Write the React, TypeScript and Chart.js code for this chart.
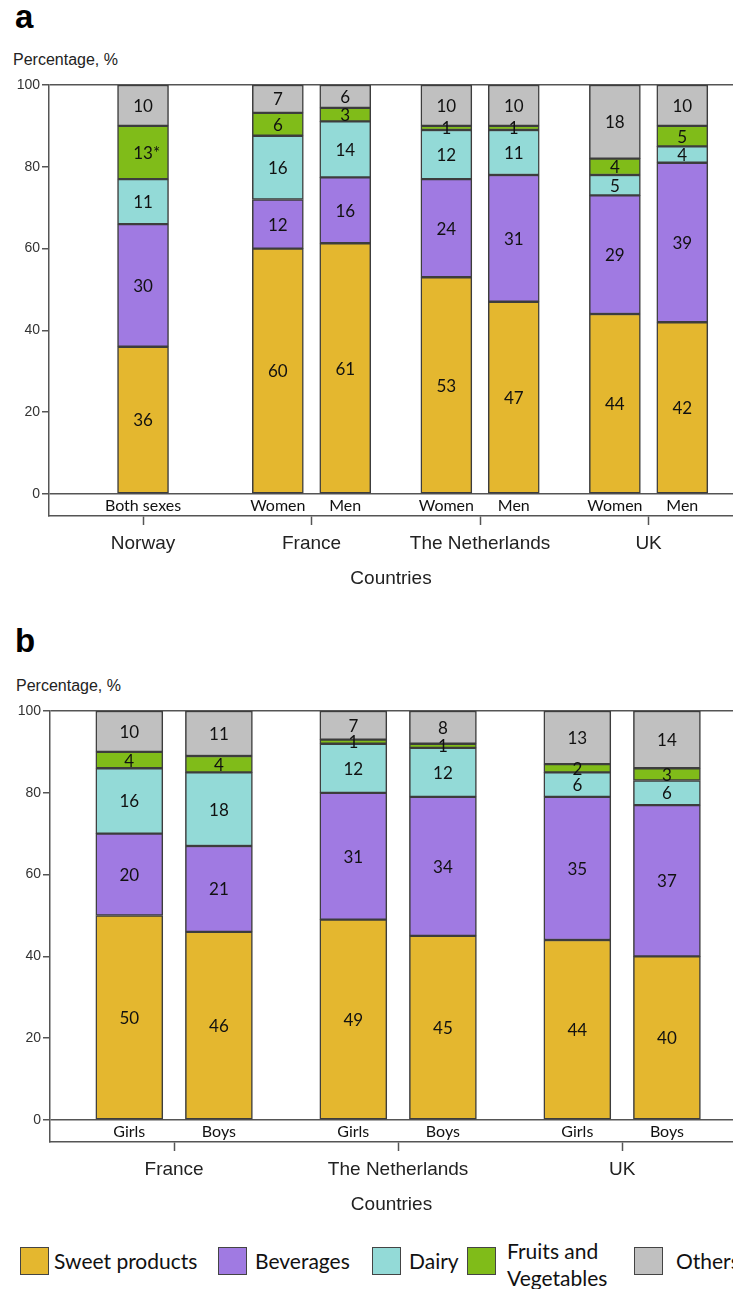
import React, { useEffect, useRef } from "react";
import { Chart, registerables } from "chart.js";

Chart.register(...registerables);

// ---------- shared ----------
const SERIES_NAMES = ["Sweet products", "Beverages", "Dairy", "Fruits and Vegetables", "Others"];
const SERIES_COLORS = ["#E4B72F", "#A07AE2", "#93DAD7", "#80BC19", "#C0C0C0"];
const Y_TICKS = [0, 20, 40, 60, 80, 100];

// ---------- panel a (adults) ----------
const aCountries = ["Norway", "France", "The Netherlands", "UK"];
const aSubgroups = ["Both sexes", "Women", "Men", "Women", "Men", "Women", "Men"];
const aBarCountry = [0, 1, 1, 2, 2, 3, 3];
const aSweet = [36, 60, 61.3, 53, 47, 44, 42];
const aBeverages = [30, 12, 16.1, 24, 31, 29, 39];
const aDairy = [11, 15.6, 13.7, 12, 11, 5, 4];
const aFruitVeg = [13, 5.6, 3.3, 1, 1, 4, 5];
const aOthers = [10, 6.8, 5.6, 10, 10, 18, 10];
const aFruitVegMarks = ["*", "", "", "", "", "", ""];

// ---------- panel b (children) ----------
const bCountries = ["France", "The Netherlands", "UK"];
const bSubgroups = ["Girls", "Boys", "Girls", "Boys", "Girls", "Boys"];
const bBarCountry = [0, 0, 1, 1, 2, 2];
const bSweet = [50, 46, 49, 45, 44, 40];
const bBeverages = [20, 21, 31, 34, 35, 37];
const bDairy = [16, 18, 12, 12, 6, 6];
const bFruitVeg = [4, 4, 1, 1, 2, 3];
const bOthers = [10, 11, 7, 8, 13, 14];

const ARIAL = "'Liberation Sans', Arial, sans-serif";
const CALIBRI = "Lato, 'Open Sans', sans-serif";

type PanelProps = {
  countries: string[];
  subgroups: string[];
  barCountry: number[];
  series: number[][];
  marks: (string[] | null)[];
  xMin: number;
  xMax: number;
  axisWidth: number;
  barThickness: number;
  top: number;
};

function Panel(props: PanelProps) {
  const ref = useRef<HTMLCanvasElement>(null);
  useEffect(() => {
    const { countries, subgroups, barCountry, series, marks, xMin, xMax, axisWidth, barThickness } = props;
    const counts = countries.map((_, g) => barCountry.filter((c) => c === g).length);
    const seen = countries.map(() => 0);
    const xs = barCountry.map((g) => {
      const n = counts[g];
      const i = seen[g]++;
      return g + (n === 1 ? 0 : (i - (n - 1) / 2) * 0.4);
    });

    const datasets = series.map((vals, si) => ({
      label: SERIES_NAMES[si],
      data: vals.map((v, i) => ({ x: xs[i], y: v })),
      backgroundColor: SERIES_COLORS[si],
      borderColor: "#3d3d3d",
      borderWidth: 1.5,
      borderSkipped: false as const,
      barThickness,
    }));

    const labelPlugin = {
      id: "segLabels",
      afterDatasetsDraw(chart: any) {
        const { ctx } = chart;
        ctx.save();
        ctx.font = `17px ${CALIBRI}`;
        ctx.fillStyle = "#111";
        ctx.textBaseline = "middle";
        ctx.textAlign = "left";
        chart.data.datasets.forEach((_ds: any, di: number) => {
          const meta = chart.getDatasetMeta(di);
          meta.data.forEach((el: any, i: number) => {
            const v = series[di][i];
            const num = String(Math.round(v));
            const mark = marks[di] ? (marks[di] as string[])[i] : "";
            const w = ctx.measureText(num).width;
            const p = el.getProps(["x", "y", "base"], true);
            ctx.fillText(num + mark, p.x - w / 2, (p.y + p.base) / 2 + 1);
          });
        });
        const xScale = chart.scales.x;
        const yScale = chart.scales.y;
        const yMid = (yScale.getPixelForValue(0) + chart.chartArea.bottom) / 2 + 1;
        ctx.font = `16px ${CALIBRI}`;
        ctx.textAlign = "center";
        subgroups.forEach((s, i) => ctx.fillText(s, xScale.getPixelForValue(xs[i]), yMid));
        ctx.restore();
      },
    };

    const chart = new Chart(ref.current as HTMLCanvasElement, {
      type: "bar",
      data: { datasets: datasets as any },
      plugins: [labelPlugin],
      options: {
        animation: false,
        responsive: false,
        maintainAspectRatio: false,
        devicePixelRatio: 1,
        layout: { padding: { top: 15, left: 0, right: 0, bottom: 0 } },
        plugins: { legend: { display: false }, tooltip: { enabled: false } },
        scales: {
          x: {
            type: "linear",
            min: xMin,
            max: xMax,
            stacked: true,
            offset: false,
            afterBuildTicks: (s: any) => {
              s.ticks = countries.map((_, i) => ({ value: i }));
            },
            afterFit: (s: any) => {
              s.height = 84;
            },
            ticks: {
              autoSkip: false,
              maxRotation: 0,
              padding: 7,
              color: "#222",
              font: { family: ARIAL, size: 19 },
              callback: (v: any) => countries[Math.round(Number(v))] ?? "",
            },
            grid: {
              drawOnChartArea: false,
              drawTicks: true,
              tickLength: 9,
              tickColor: "#555",
              tickWidth: 1.5,
              offset: false,
            },
            border: { display: true, color: "#555", width: 1.5 },
            title: {
              display: true,
              text: "Countries",
              color: "#222",
              font: { family: ARIAL, size: 19 },
              padding: { top: 0, bottom: 10 },
            },
          } as any,
          y: {
            type: "linear",
            min: -5.38,
            max: 100,
            stacked: true,
            afterBuildTicks: (s: any) => {
              s.ticks = Y_TICKS.map((v) => ({ value: v }));
            },
            afterFit: (s: any) => {
              s.width = axisWidth;
            },
            ticks: {
              padding: 2,
              color: "#333",
              font: { family: ARIAL, size: 14 },
            },
            grid: {
              color: (c: any) =>
                c.tick && (c.tick.value === 0 || c.tick.value === 100) ? "#555" : "rgba(0,0,0,0)",
              lineWidth: 1.5,
              drawTicks: true,
              tickLength: 7,
              tickColor: "#555",
              tickWidth: 1.5,
            },
            border: { display: true, color: "#555", width: 1.5 },
          } as any,
        },
      },
    });
    return () => chart.destroy();
  }, []);

  return (
    <canvas
      ref={ref}
      width={733}
      height={530}
      style={{ position: "absolute", left: 0, top: props.top, width: 733, height: 530, display: "block" }}
    />
  );
}

const legendItems = [
  { box: 20, text: 54, lines: ["Sweet products"] },
  { box: 218, text: 255, lines: ["Beverages"] },
  { box: 372, text: 409, lines: ["Dairy"] },
  { box: 467, text: 507, lines: ["Fruits and", "Vegetables"] },
  { box: 634, text: 676, lines: ["Others"] },
];

export default function App() {
  const textStyle: React.CSSProperties = {
    position: "absolute",
    fontFamily: ARIAL,
    color: "#222",
    whiteSpace: "nowrap",
  };
  return (
    <div
      style={{
        position: "absolute",
        left: 0,
        top: 0,
        width: 733,
        height: 1289,
        overflow: "hidden",
        background: "#fff",
      }}
    >
      <div style={{ ...textStyle, left: 15, top: 0, fontSize: 33, lineHeight: "33px", fontWeight: 700, color: "#000" }}>a</div>
      <div style={{ ...textStyle, left: 13, top: 52, fontSize: 16, lineHeight: "16px" }}>Percentage, %</div>
      <Panel
        countries={aCountries}
        subgroups={aSubgroups}
        barCountry={aBarCountry}
        series={[aSweet, aBeverages, aDairy, aFruitVeg, aOthers]}
        marks={[null, null, null, aFruitVegMarks, null]}
        xMin={-0.558}
        xMax={3.501}
        axisWidth={49}
        barThickness={51}
        top={70}
      />

      <div style={{ ...textStyle, left: 15, top: 624, fontSize: 33, lineHeight: "33px", fontWeight: 700, color: "#000" }}>b</div>
      <div style={{ ...textStyle, left: 16, top: 678, fontSize: 16, lineHeight: "16px" }}>Percentage, %</div>
      <Panel
        countries={bCountries}
        subgroups={bSubgroups}
        barCountry={bBarCountry}
        series={[bSweet, bBeverages, bDairy, bFruitVeg, bOthers]}
        marks={[null, null, null, null, null]}
        xMin={-0.554}
        xMax={2.495}
        axisWidth={50}
        barThickness={67}
        top={696}
      />

      {legendItems.map((it, i) => (
        <React.Fragment key={i}>
          <div
            style={{
              position: "absolute",
              left: it.box,
              top: 1247,
              width: 29,
              height: 28,
              boxSizing: "border-box",
              background: SERIES_COLORS[i],
              border: "1.5px solid #444",
            }}
          />
          <div
            style={{
              position: "absolute",
              left: it.text,
              top: it.lines.length > 1 ? 1237 : 1247,
              fontFamily: CALIBRI,
              fontSize: 21,
              lineHeight: "27px",
              color: "#111",
              whiteSpace: "nowrap",
            }}
          >
            {it.lines.map((l, j) => (
              <div key={j}>{l}</div>
            ))}
          </div>
        </React.Fragment>
      ))}
    </div>
  );
}
